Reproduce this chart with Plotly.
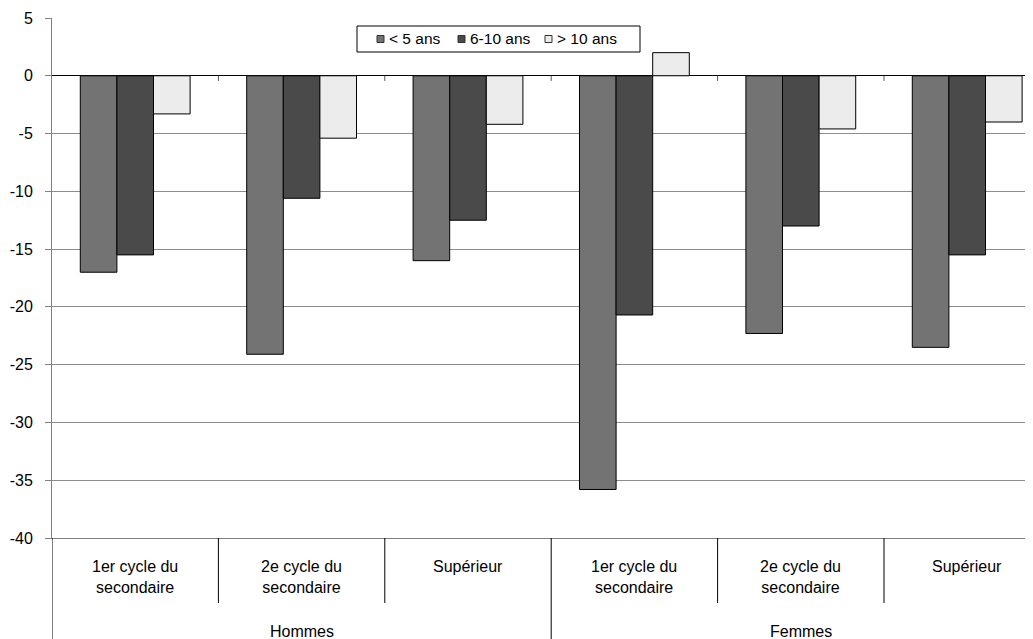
import plotly.graph_objects as go

# ---- data ----
groups = ["Hommes", "Femmes"]
levels = ["1er cycle du<br>secondaire", "2e cycle du<br>secondaire", "Supérieur"]
series_names = ["< 5 ans", "6-10 ans", "> 10 ans"]
lt5 = [-17.0, -24.1, -16.0, -35.8, -22.3, -23.5]
y6_10 = [-15.5, -10.6, -12.5, -20.7, -13.0, -15.5]
gt10 = [-3.3, -5.4, -4.2, 2.0, -4.6, -4.0]
yticks = list(range(-40, 6, 5))

colors = ["#737373", "#4a4a4a", "#ececec"]
series = [lt5, y6_10, gt10]

cats = [(g, l) for g in groups for l in levels]
xpos = list(range(len(cats)))

FONT = "Arial, Liberation Sans, sans-serif"

fig = go.Figure()
for name, vals, col in zip(series_names, series, colors):
    fig.add_trace(go.Bar(
        x=xpos, y=vals, name=name, showlegend=False,
        marker=dict(color=col, line=dict(color="#000000", width=1)),
    ))

# page body has an 8px margin; compensate so the picture matches
OFF = 8
W, H = 1033 - OFF, 639 - OFF
ml, mt, mr, mb = 52 - OFF, 18 - OFF, 0, 101
plot_w = W - ml - mr
plot_h = H - mt - mb
cat_px = 166.4
xmax = -0.5 + plot_w / cat_px

# helpers: picture pixel -> paper coords
PL, PB = 52, 538
def px(X):
    return (X - PL) / plot_w
def py(Y):
    return (PB - Y) / plot_h

shapes = []
# small tick marks on the zero line at category boundaries
for i in range(1, len(cats)):
    shapes.append(dict(type="line", xref="x", yref="y", x0=i - 0.5, x1=i - 0.5,
                       y0=0, y1=-0.45, line=dict(color="#555555", width=1)))
# divider lines in the category label area
inner_bottom = -65 / plot_h
outer_bottom = -(mb + 5) / plot_h
nl = len(levels)
for i in range(len(cats) + 1):
    b = i - 0.5
    ybot = outer_bottom if i % nl == 0 else inner_bottom
    shapes.append(dict(type="line", xref="x", yref="paper", x0=b, x1=b,
                       y0=0, y1=ybot, line=dict(color="#000000", width=1)))

annotations = []
for i, (g, l) in enumerate(cats):
    annotations.append(dict(x=i, xref="x", y=-18 / plot_h, yref="paper",
                            text=l, showarrow=False, yanchor="top", xanchor="center",
                            font=dict(family=FONT, size=16, color="#000000")))
for gi, g in enumerate(groups):
    center = gi * nl + (nl - 1) / 2
    annotations.append(dict(x=center, xref="x", y=-93 / plot_h, yref="paper",
                            text=g, showarrow=False, yanchor="middle", xanchor="center",
                            font=dict(family=FONT, size=16, color="#000000")))

# legend box (drawn as shapes + text)
shapes.append(dict(type="rect", xref="paper", yref="paper",
                   x0=px(357), x1=px(640), y0=py(52), y1=py(26),
                   fillcolor="white", line=dict(color="#000000", width=1), layer="above"))
leg_sq_x = [377, 458, 545]
for name, col, sx in zip(series_names, colors, leg_sq_x):
    shapes.append(dict(type="rect", xref="paper", yref="paper",
                       x0=px(sx), x1=px(sx + 7), y0=py(42.5), y1=py(35.5),
                       fillcolor=col, line=dict(color="#333333", width=1), layer="above"))
    annotations.append(dict(x=px(sx + 10), xref="paper", y=py(39), yref="paper",
                            text=name, showarrow=False, xanchor="left", yanchor="middle",
                            font=dict(family=FONT, size=15.5, color="#000000")))

fig.update_layout(
    width=W, height=H,
    margin=dict(l=ml, r=mr, t=mt, b=mb, autoexpand=False),
    paper_bgcolor="white", plot_bgcolor="white",
    barmode="group", bargap=0.34, bargroupgap=0,
    font=dict(family=FONT, size=14, color="#000000"),
    showlegend=False,
    shapes=shapes,
    annotations=annotations,
)
fig.update_xaxes(range=[-0.5, xmax], showticklabels=False, showgrid=False,
                 zeroline=False, showline=True, linecolor="#808080", linewidth=1,
                 ticks="", fixedrange=True, automargin=False)
fig.update_yaxes(range=[-40, 5], tickvals=yticks, ticktext=[str(v) for v in yticks],
                 showgrid=True, gridcolor="#8c8c8c",
                 gridwidth=1, zeroline=True, zerolinecolor="#000000", zerolinewidth=1,
                 showline=True, linecolor="#808080", linewidth=1,
                 ticks="outside", ticklen=6, tickcolor="#808080",
                 ticklabelstandoff=9, automargin=False,
                 tickfont=dict(family=FONT, size=16, color="#000000"), fixedrange=True)

fig.write_html("out.html")
